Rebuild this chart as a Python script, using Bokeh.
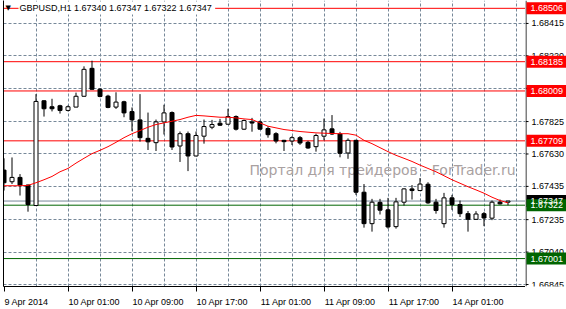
from bokeh.plotting import figure
from bokeh.layouts import row
from bokeh.models import ColumnDataSource, FixedTicker, LinearAxis, Span, Label, Range1d
from bokeh.core.properties import value
from bokeh.embed import file_html
from bokeh.resources import INLINE

# ---------------- data ----------------
symbol_header = "GBPUSD,H1  1.67340 1.67347 1.67322 1.67347"
bar_index = list(range(64))

opens = [1.67533, 1.67463, 1.67489, 1.67443, 1.67320, 1.67950, 1.67914, 1.67920, 1.67892, 1.67912,
         1.67977, 1.68145, 1.68020, 1.67978, 1.67912, 1.67944, 1.67885, 1.67835, 1.67724, 1.67698,
         1.67823, 1.67879, 1.67678, 1.67752, 1.67618, 1.67737, 1.67791, 1.67815, 1.67809, 1.67855,
         1.67779, 1.67823, 1.67823, 1.67783, 1.67752, 1.67712, 1.67708, 1.67728, 1.67700, 1.67674,
         1.67737, 1.67781, 1.67750, 1.67636, 1.67712, 1.67400, 1.67211, 1.67339, 1.67294, 1.67193,
         1.67340, 1.67420, 1.67410, 1.67448, 1.67340, 1.67211, 1.67366, 1.67326, 1.67271, 1.67237,
         1.67271, 1.67244, 1.67340, 1.67340]
highs = [1.67604, 1.67609, 1.67509, 1.67446, 1.67990, 1.67953, 1.67962, 1.67926, 1.67922, 1.67999,
         1.68157, 1.68191, 1.68025, 1.67986, 1.68001, 1.67950, 1.67910, 1.67990, 1.67879, 1.67837,
         1.67926, 1.67886, 1.67765, 1.67765, 1.67765, 1.67837, 1.67835, 1.67841, 1.67902, 1.67862,
         1.67837, 1.67847, 1.67831, 1.67797, 1.67761, 1.67715, 1.67737, 1.67738, 1.67709, 1.67752,
         1.67843, 1.67864, 1.67763, 1.67724, 1.67715, 1.67449, 1.67360, 1.67360, 1.67366, 1.67366,
         1.67423, 1.67443, 1.67485, 1.67460, 1.67360, 1.67396, 1.67384, 1.67350, 1.67287, 1.67286,
         1.67281, 1.67350, 1.67356, 1.67347]
lows = [1.67410, 1.67449, 1.67380, 1.67283, 1.67318, 1.67855, 1.67886, 1.67873, 1.67886, 1.67911,
        1.67976, 1.68016, 1.67971, 1.67905, 1.67901, 1.67851, 1.67767, 1.67704, 1.67654, 1.67648,
        1.67747, 1.67654, 1.67582, 1.67527, 1.67616, 1.67692, 1.67779, 1.67799, 1.67807, 1.67771,
        1.67774, 1.67764, 1.67777, 1.67728, 1.67694, 1.67648, 1.67684, 1.67685, 1.67661, 1.67644,
        1.67712, 1.67744, 1.67610, 1.67601, 1.67384, 1.67187, 1.67163, 1.67266, 1.67181, 1.67181,
        1.67320, 1.67356, 1.67407, 1.67330, 1.67271, 1.67187, 1.67294, 1.67251, 1.67163, 1.67235,
        1.67196, 1.67232, 1.67326, 1.67322]
closes = [1.67457, 1.67489, 1.67442, 1.67326, 1.67946, 1.67902, 1.67902, 1.67892, 1.67914, 1.67977,
          1.68139, 1.68019, 1.67976, 1.67910, 1.67942, 1.67877, 1.67835, 1.67728, 1.67703, 1.67823,
          1.67877, 1.67672, 1.67752, 1.67618, 1.67741, 1.67795, 1.67807, 1.67803, 1.67855, 1.67779,
          1.67831, 1.67816, 1.67779, 1.67746, 1.67708, 1.67704, 1.67728, 1.67696, 1.67666, 1.67741,
          1.67775, 1.67750, 1.67634, 1.67712, 1.67400, 1.67211, 1.67340, 1.67292, 1.67191, 1.67342,
          1.67420, 1.67410, 1.67449, 1.67336, 1.67290, 1.67366, 1.67326, 1.67271, 1.67237, 1.67269,
          1.67245, 1.67340, 1.67330, 1.67347]
moving_avg = [1.67439, 1.67439, 1.67439, 1.67441, 1.67457, 1.67475, 1.67495, 1.67523, 1.67543, 1.67575,
              1.67604, 1.67632, 1.67652, 1.67674, 1.67700, 1.67728, 1.67752, 1.67771, 1.67791, 1.67807,
              1.67817, 1.67827, 1.67837, 1.67851, 1.67862, 1.67859, 1.67855, 1.67851, 1.67851, 1.67847,
              1.67841, 1.67837, 1.67817, 1.67797, 1.67787, 1.67777, 1.67771, 1.67765, 1.67761, 1.67757,
              1.67755, 1.67753, 1.67752, 1.67752, 1.67743, 1.67712, 1.67692, 1.67668, 1.67644, 1.67622,
              1.67604, 1.67585, 1.67563, 1.67543, 1.67523, 1.67499, 1.67475, 1.67454, 1.67433, 1.67414,
              1.67394, 1.67370, 1.67350, 1.67336]

time_tick_bars = [0, 8, 16, 24, 32, 40, 48, 56]
time_tick_labels = ["9 Apr 2014", "10 Apr 01:00", "10 Apr 09:00", "10 Apr 17:00",
                    "11 Apr 01:00", "11 Apr 09:00", "11 Apr 17:00", "14 Apr 01:00"]
price_ticks = [1.68415, 1.68220, 1.68025, 1.67825, 1.67630, 1.67435, 1.67235, 1.67040, 1.66845]
price_tick_labels = ["1.68415", "1.68220", "1.68025", "1.67825", "1.67630", "1.67435",
                     "1.67235", "1.67040", "1.66845"]
red_levels = [1.68506, 1.68185, 1.68009, 1.67709]
green_levels = [1.67322, 1.67001]
bid_level = 1.67347
watermark = "Портал для трейдеров - ForTrader.ru"

# ---------------- layout ----------------
W, H = 566, 309
FRAME_L, FRAME_R, FRAME_T, FRAME_B = 3, 525, 0, 289
SCALE_W = W - FRAME_R
PX_PER_BAR = 8.0
x_start = -0.0625
x_end = x_start + (FRAME_R - FRAME_L) / PX_PER_BAR
y_top, y_bottom = 1.68553, 1.66833
FONT = "Liberation Sans"
FS = 9
WM_X, WM_Y = 249, 171


def px_x(px):
    return x_start + (px - FRAME_L) / PX_PER_BAR


def px_y(py):
    return y_top - (py - FRAME_T) * (y_top - y_bottom) / (FRAME_B - FRAME_T)


# approximate Arial-metric widths to left-align time labels at their ticks
_cw = {" ": 278, "A": 667, "p": 556, "r": 333, ":": 278}


def text_w(s, size):
    return sum(_cw.get(ch, 556) for ch in s) * size / 1000.0


label_centers = [b + text_w(t, FS) / 2 / PX_PER_BAR + 0.05 for b, t in zip(time_tick_bars, time_tick_labels)]

p = figure(width=FRAME_R, height=H, x_range=Range1d(x_start, x_end), y_range=Range1d(y_bottom, y_top),
           output_backend="svg", toolbar_location=None, x_axis_location="below",
           y_axis_location=None, min_border_left=FRAME_L, min_border_right=0,
           min_border_top=FRAME_T, min_border_bottom=H - FRAME_B,
           background_fill_color="white", border_fill_color="white", outline_line_color=None)

# bottom time axis: labels centred so they start at the (minor) tick marks
xa = p.xaxis[0]
xa.ticker = FixedTicker(ticks=label_centers, minor_ticks=time_tick_bars)
xa.major_label_overrides = {c: t for c, t in zip(label_centers, time_tick_labels)}
xa.major_tick_out = 0
xa.major_tick_in = 0
xa.minor_tick_out = 5
xa.minor_tick_in = 0
xa.minor_tick_line_color = "black"
xa.axis_line_color = "black"
xa.major_label_standoff = 5
xa.major_label_text_font = FONT
xa.major_label_text_font_size = f"{FS}px"
xa.major_label_text_color = "black"

# left border
la = LinearAxis(ticker=FixedTicker(ticks=[]), major_tick_out=0, major_tick_in=0,
                minor_tick_out=0, minor_tick_in=0, major_label_text_font_size="0px",
                axis_line_color="black")
p.add_layout(la, "left")

# grids
p.xgrid[0].ticker = FixedTicker(ticks=list(range(4, 65, 4)))
p.ygrid[0].ticker = FixedTicker(ticks=price_ticks)
for g in (p.xgrid[0], p.ygrid[0]):
    g.grid_line_color = "#778899"
    g.grid_line_dash = "3 2"
    g.grid_line_width = 1

# watermark (kept inside the chart area)
p.add_layout(Label(x=px_x(WM_X), y=px_y(WM_Y), text=watermark, text_font="DejaVu Sans",
                   text_font_size="14px", text_color="#a9a1a1", text_baseline="alphabetic",
                   level="underlay"))

# horizontal levels (behind candles)
p.add_layout(Span(location=bid_level, dimension="width", line_color="#778899", line_width=1, level="underlay"))
for lv in red_levels:
    p.add_layout(Span(location=lv, dimension="width", line_color="#ff0000", line_width=1, level="underlay"))
for lv in green_levels:
    p.add_layout(Span(location=lv, dimension="width", line_color="#006400", line_width=1, level="underlay"))

# candles
src = ColumnDataSource(dict(
    x=bar_index, open=opens, high=highs, low=lows, close=closes,
    top=[max(o, c) for o, c in zip(opens, closes)],
    bottom=[min(o, c) for o, c in zip(opens, closes)],
    fill=["white" if c >= o else "black" for o, c in zip(opens, closes)],
))
p.segment(x0="x", y0="low", x1="x", y1="high", source=src, line_color="black", line_width=1)
p.vbar(x="x", width=0.5, top="top", bottom="bottom", fill_color="fill", line_color="black",
       line_width=1, source=src)

# moving average
p.line(bar_index, moving_avg, line_color="#ff0000", line_width=1)

# header
p.add_layout(Label(x=px_x(5), y=px_y(8), text="▼", text_font="DejaVu Sans", text_font_size="7px",
                   text_color="black", text_baseline="middle"))
p.add_layout(Label(x=px_x(18), y=px_y(8), text=symbol_header, text_font=FONT,
                   text_font_size=f"{FS}px", text_color="black", text_baseline="middle",
                   background_fill_color="white", padding=1))

# ---------------- price scale strip (x in pixels from the chart's right edge) ----------------
s = figure(width=SCALE_W, height=H, x_range=Range1d(0, SCALE_W), y_range=p.y_range,
           output_backend="svg", toolbar_location=None, x_axis_location=None, y_axis_location=None,
           min_border_left=0, min_border_right=0, min_border_top=FRAME_T, min_border_bottom=H - FRAME_B,
           background_fill_color="white", border_fill_color="white", outline_line_color=None)
for g in s.grid:
    g.visible = False

# axis line and ticks
s.segment(x0=[0.5], y0=[y_bottom], x1=[0.5], y1=[y_top], line_color="black", line_width=1)
s.segment(x0=0, y0=price_ticks, x1=3, y1=price_ticks, line_color="black", line_width=1)
s.text(x=6, y=price_ticks, text=price_tick_labels, text_font=value(FONT), text_font_size=f"{FS}px",
       text_color="black", text_baseline="middle", text_align="left")

# coloured price boxes
box_levels = red_levels + [bid_level] + green_levels
box_colors = ["#ff0000"] * len(red_levels) + ["#000000"] + ["#006400"] * len(green_levels)
box_src = ColumnDataSource(dict(y=box_levels, color=box_colors, label=[f"{v:.5f}" for v in box_levels]))
s.rect(x=22, y="y", width=42, height=12, height_units="screen", fill_color="color",
       line_color=None, source=box_src)
s.text(x=5, y="y", text="label", text_font=value(FONT), text_font_size=f"{FS}px",
       text_color="white", text_baseline="middle", text_align="left", source=box_src)

open("out.html", "w").write(file_html(row(p, s), INLINE))
